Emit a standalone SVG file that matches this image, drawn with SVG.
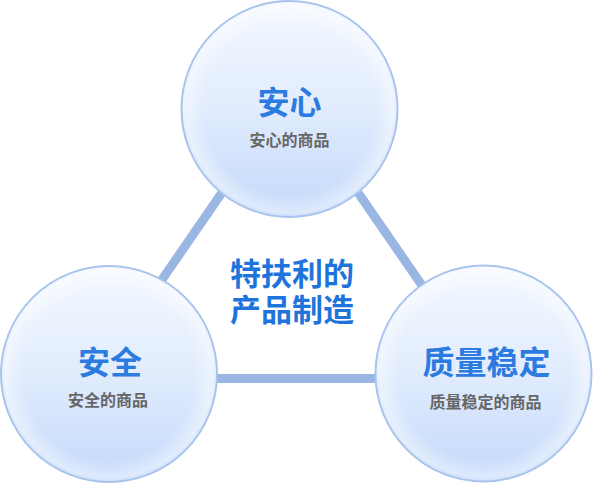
<svg xmlns="http://www.w3.org/2000/svg" width="593" height="483" viewBox="0 0 593 483">
<defs>
<linearGradient id="fillG" x1="0" y1="0" x2="0" y2="1">
<stop offset="0" stop-color="#f4f8ff"/>
<stop offset="0.5" stop-color="#e1ecfd"/>
<stop offset="1" stop-color="#c3d8fa"/>
</linearGradient>
<radialGradient id="glowG" cx="0.5" cy="0.5" r="0.5">
<stop offset="0.8" stop-color="#ffffff" stop-opacity="0"/>
<stop offset="0.97" stop-color="#ffffff" stop-opacity="0.45"/>
<stop offset="1" stop-color="#ffffff" stop-opacity="0.2"/>
</radialGradient>
<style>
.line{stroke:#9ab6e3;stroke-width:9;fill:none}
.ball{fill:url(#fillG);stroke:#a9c4ec;stroke-width:2}
.glow{fill:url(#glowG)}
.title{font-family:"Noto Sans CJK SC","Noto Sans CJK JP",sans-serif;font-weight:700;font-size:32px;fill:#2b7be0;text-anchor:middle}
.sub{font-family:"Noto Sans CJK SC","Noto Sans CJK JP",sans-serif;font-weight:700;font-size:16px;fill:#666666;text-anchor:middle}
.center{font-family:"Noto Sans CJK SC","Noto Sans CJK JP",sans-serif;font-weight:700;font-size:31px;fill:#1f74dc;text-anchor:middle}
</style>
</defs>
<g id="connectors">
<line class="line" x1="250" y1="152" x2="130" y2="326"/>
<line class="line" x1="330" y1="152" x2="450" y2="326"/>
<line class="line" x1="200" y1="378.5" x2="390" y2="378.5"/>
</g>
<g id="node-anshin">
<circle class="ball" cx="289.5" cy="109" r="108"/>
<circle class="glow" cx="289.5" cy="109" r="107"/>
<text class="title" x="289.5" y="113.5">安心</text>
<text class="sub" x="289.5" y="146">安心的商品</text>
</g>
<g id="node-anzen">
<circle class="ball" cx="109" cy="374" r="108"/>
<circle class="glow" cx="109" cy="374" r="107"/>
<text class="title" x="110" y="374">安全</text>
<text class="sub" x="108" y="406">安全的商品</text>
</g>
<g id="node-quality">
<circle class="ball" cx="483.5" cy="373.5" r="108"/>
<circle class="glow" cx="483.5" cy="373.5" r="107"/>
<text class="title" x="486.5" y="374">质量稳定</text>
<text class="sub" x="485.5" y="407.5">质量稳定的商品</text>
</g>
<g id="center-label">
<text class="center" x="292" y="284.5">特扶利的</text>
<text class="center" x="292" y="320.5">产品制造</text>
</g>
</svg>
